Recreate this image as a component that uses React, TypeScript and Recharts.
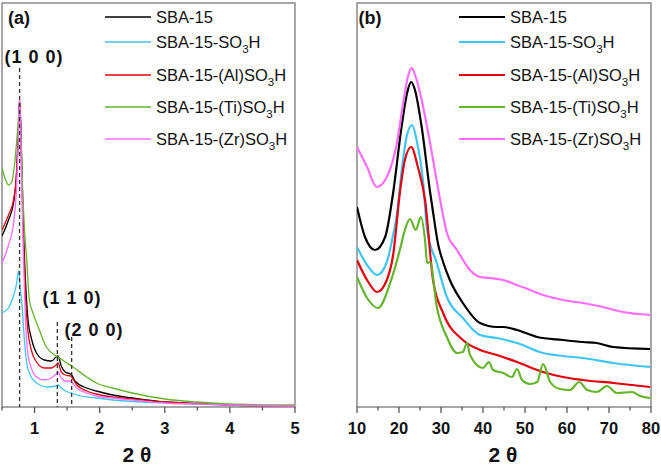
import React from "react"
import { LineChart, Line, XAxis, YAxis, ReferenceLine, ReferenceArea, Legend } from "recharts"

const seriesNames = ["SBA-15", "SBA-15-SO3H", "SBA-15-(Al)SO3H", "SBA-15-(Ti)SO3H", "SBA-15-(Zr)SO3H"]
const seriesColors = ["#000000", "#3ec6f2", "#e3000f", "#64b42c", "#ff6cff"]

// (a) low angle, [2θ, intensity a.u.]
const aSba15 = [[0.5, 171], [0.6, 187], [0.68, 205], [0.72, 230], [0.75, 275], [0.77, 307], [0.79, 280], [0.81, 225], [0.83, 177], [0.86, 127], [0.9, 87], [0.95, 69], [1.03, 54], [1.15, 47], [1.26, 46], [1.33, 50], [1.36, 51], [1.41, 41], [1.47, 35], [1.55, 33], [1.58, 31], [1.62, 26], [1.8, 19], [1.95, 16], [2.2, 12], [2.5, 9], [3, 5], [3.5, 3.5], [4, 2], [5, 1]]
const aSo3h = [[0.5, 94], [0.6, 99], [0.68, 112], [0.72, 122], [0.755, 136], [0.78, 118], [0.81, 100], [0.83, 80], [0.85, 62], [0.88, 44], [0.92, 34], [1.03, 24], [1.2, 20], [1.33, 21], [1.36, 22], [1.41, 19], [1.51, 15], [1.57, 14], [1.65, 12], [1.95, 9], [2.5, 5.5], [3, 4], [4, 2], [5, 1]]
const aAl = [[0.5, 177], [0.6, 192], [0.68, 208], [0.72, 230], [0.75, 270], [0.77, 307], [0.79, 270], [0.81, 215], [0.83, 167], [0.86, 112], [0.9, 75], [0.95, 57], [1.03, 45], [1.15, 39], [1.26, 39], [1.33, 42], [1.36, 44], [1.41, 35], [1.47, 32], [1.55, 31], [1.58, 29], [1.65, 22], [1.8, 16], [1.95, 13], [2.2, 10], [2.5, 8], [3, 5], [3.5, 3.5], [4, 2], [5, 1]]
const aTi = [[0.5, 239], [0.55, 228], [0.6, 222], [0.65, 225], [0.7, 247], [0.74, 277], [0.77, 302], [0.79, 275], [0.81, 230], [0.846, 177], [0.88, 147], [0.92, 107], [0.97, 95], [1.08, 76], [1.18, 60], [1.36, 50], [1.45, 46], [1.57, 41], [1.8, 30], [1.95, 24], [2.2, 19], [2.5, 14], [3, 8], [3.5, 5], [4, 3], [5, 2]]
const aZr = [[0.5, 144], [0.6, 162], [0.68, 185], [0.72, 215], [0.75, 265], [0.77, 310], [0.79, 265], [0.81, 200], [0.83, 147], [0.86, 87], [0.9, 52], [0.95, 39], [1.03, 30], [1.15, 27], [1.26, 29], [1.33, 33], [1.36, 35], [1.41, 29], [1.47, 26], [1.55, 26], [1.58, 24], [1.65, 19], [1.8, 14], [1.95, 11], [2.2, 9], [2.5, 7], [3, 4], [3.5, 3], [4, 2], [5, 1]]

// (b) wide angle
const bSba15 = [[10, 200], [11.9, 170], [14.3, 157], [16.7, 170], [18.6, 214], [20.6, 280], [22.1, 317], [22.9, 325], [23.8, 317], [25.4, 280], [27.4, 215], [28.1, 195], [29.3, 163], [30.5, 145], [32.1, 127], [35.2, 104], [39.3, 84], [43.3, 80], [44.8, 80], [48.1, 77], [52.9, 70], [59, 67], [63.8, 65], [67.1, 64], [71, 60], [79.8, 58]]
const bSo3h = [[10, 160], [12.4, 142], [14.8, 132], [17.1, 145], [18.6, 172], [19.5, 192], [20.6, 235], [21.8, 270], [23.1, 282], [24.2, 267], [25.7, 227], [26.7, 177], [29, 144], [31.4, 110], [35.2, 89], [39.3, 72], [43.3, 69], [48.1, 64], [54.3, 54], [59, 51], [63.8, 49], [71, 44], [79.8, 40]]
const bAl = [[10, 147], [12.4, 127], [14.8, 115], [17.1, 127], [18.6, 152], [20.2, 214], [21.4, 247], [22.9, 260], [24.5, 240], [26.2, 207], [28.1, 127], [30.5, 94], [35.2, 67], [39.3, 57], [43.3, 52], [48.1, 45], [54.3, 35], [59, 30], [63.8, 27], [71, 24], [79.8, 20]]
const bTi = [[10, 130], [12.4, 109], [15, 99], [17.9, 124], [20.2, 157], [21.4, 177], [22.6, 188], [24, 177], [25.2, 190], [26.2, 167], [26.7, 144], [27.4, 145], [29, 100], [31.4, 70], [33.8, 54], [35.2, 55], [36.2, 64], [36.9, 52], [40, 39], [41.4, 45], [42.4, 37], [44.8, 34], [46.9, 30], [48.1, 38], [49.3, 27], [51.2, 23], [52.9, 25], [54.3, 43], [56, 25], [58.3, 18], [60.7, 17], [62.9, 25], [64.8, 17], [67.1, 15], [69.5, 21], [71.9, 14], [75.5, 15], [77.4, 11], [79.8, 9]]
const bZr = [[10, 260], [12.4, 240], [14.7, 220], [17.1, 230], [19.5, 264], [21, 304], [22.1, 330], [23, 339], [24, 330], [25.4, 307], [27.4, 264], [29.8, 207], [31.4, 174], [33.8, 157], [36.9, 137], [39.3, 130], [41.7, 129], [44.8, 127], [48.1, 122], [51.2, 117], [54.3, 112], [59, 107], [63.8, 104], [68.6, 100], [73.3, 95], [79.8, 92]]

const aTicks = [0.5, 1, 1.5, 2, 2.5, 3, 3.5, 4, 4.5, 5]
const bTicks = [10, 15, 20, 25, 30, 35, 40, 45, 50, 55, 60, 65, 70, 75, 80]

const panelA = [aSba15, aSo3h, aAl, aTi, aZr]
const panelB = [bSba15, bSo3h, bAl, bTi, bZr]

const FONT = 'Arial, "Liberation Sans", sans-serif'
const legendRowY = [17, 42, 75, 107, 139]

const toPoints = (pairs: number[][]) => pairs.map(([x, y]) => ({ x, y }))

function withSub(name: string) {
  const m = name.match(/^(.*SO)3(H)$/)
  if (!m) return name
  return (
    <>
      {m[1]}
      <sub style={{ fontSize: 11.5, lineHeight: 0, verticalAlign: -5 }}>3</sub>
      {m[2]}
    </>
  )
}

function makeLegend(strokeW: number) {
  return (props: any) => {
    const items = [...(props.payload || [])].sort(
      (p: any, q: any) => seriesNames.indexOf(p.value) - seriesNames.indexOf(q.value)
    )
    return (
      <div style={{ position: "relative", width: 230, height: 160, fontFamily: FONT, fontSize: 16.5, color: "#111" }}>
        {items.map((p: any, i: number) => (
          <div key={p.value} style={{ position: "absolute", left: 0, top: legendRowY[i] - 10, height: 20, display: "flex", alignItems: "center", whiteSpace: "nowrap" }}>
            <svg width={46} height={20} style={{ marginRight: 5 }}>
              <line x1={0} x2={46} y1={10} y2={10} stroke={p.color} strokeWidth={strokeW} />
            </svg>
            <span>{withSub(p.value)}</span>
          </div>
        ))}
      </div>
    )
  }
}

function makeTick(isMajor: (v: number) => boolean) {
  return (props: any) => {
    const { x, y, payload } = props
    const major = isMajor(payload.value)
    return (
      <g>
        <line x1={x} x2={x} y1={y} y2={y + (major ? 6 : 3.5)} stroke="#555" strokeWidth={1.3} />
        {major && (
          <text x={x} y={y + 27} textAnchor="middle" fontFamily={FONT} fontWeight="bold" fontSize={16.5} fill="#111">
            {payload.value}
          </text>
        )}
      </g>
    )
  }
}

function Tag({ x, y, size, children, spacing = 0 }: any) {
  return (
    <div style={{ position: "absolute", left: x, top: y, transform: "translate(-50%, -50%)", fontFamily: FONT, fontWeight: "bold", fontSize: size, letterSpacing: spacing, whiteSpace: "nowrap", color: "#111", lineHeight: 1 }}>
      {children}
    </div>
  )
}

function Panel({ sets, domain, ticks, isMajor, strokeW, margin }: any) {
  return (
    <LineChart width={margin.w} height={465} margin={margin.m}>
      <XAxis dataKey="x" type="number" domain={domain} allowDataOverflow ticks={ticks} interval={0} tickSize={0} tickMargin={0} height={30} axisLine={false} tick={makeTick(isMajor)} />
      <YAxis type="number" domain={[0, 404]} allowDataOverflow hide />
      <ReferenceArea x1={domain[0]} x2={domain[1]} y1={0} y2={404} fill="none" stroke="#8a8a8a" strokeWidth={1.5} fillOpacity={0} />
      {sets.map((s: number[][], i: number) => (
        <Line key={i} data={toPoints(s)} dataKey="y" name={seriesNames[i]} stroke={seriesColors[i]} strokeWidth={strokeW} dot={false} type="monotone" isAnimationActive={false} />
      ))}
      <Legend layout="vertical" align="center" verticalAlign="middle" content={makeLegend(strokeW)} wrapperStyle={{ left: margin.legendX, top: 0, width: 230, height: 160 }} />
      {margin.refs}
    </LineChart>
  )
}

export default function App() {
  const refsA = [
    <ReferenceLine key="r1" segment={[{ x: 0.77, y: 339 }, { x: 0.77, y: 0 }]} stroke="#333" strokeDasharray="4 3" strokeWidth={1.3} />,
    <ReferenceLine key="r2" segment={[{ x: 1.35, y: 85 }, { x: 1.35, y: 0 }]} stroke="#333" strokeDasharray="4 3" strokeWidth={1.3} />,
    <ReferenceLine key="r3" segment={[{ x: 1.57, y: 70 }, { x: 1.57, y: 0 }]} stroke="#333" strokeDasharray="4 3" strokeWidth={1.3} />,
  ]
  return (
    <div style={{ position: "absolute", left: 0, top: 0, width: 661, height: 465, background: "#fff", overflow: "hidden" }}>
      <div style={{ position: "absolute", left: 0, top: 0 }}>
        <Panel sets={panelA} domain={[0.5, 5]} ticks={aTicks} isMajor={(v: number) => Number.isInteger(v)} strokeW={1.3}
          margin={{ w: 330, m: { top: 3, right: 35, left: 2, bottom: 28 }, legendX: 105, refs: refsA }} />
      </div>
      <div style={{ position: "absolute", left: 330, top: 0 }}>
        <Panel sets={panelB} domain={[10, 80]} ticks={bTicks} isMajor={(v: number) => v % 10 === 0} strokeW={2.2}
          margin={{ w: 331, m: { top: 3, right: 10, left: 27, bottom: 28 }, legendX: 129, refs: [] }} />
      </div>
      <Tag x={19} y={18} size={18}>(a)</Tag>
      <Tag x={370} y={18} size={18}>(b)</Tag>
      <Tag x={34} y={57} size={18} spacing={1}>(1 0 0)</Tag>
      <Tag x={72} y={298} size={18} spacing={1}>(1 1 0)</Tag>
      <Tag x={94} y={330} size={18} spacing={1}>(2 0 0)</Tag>
      <Tag x={137} y={454} size={21}>2 θ</Tag>
      <Tag x={503} y={454} size={21}>2 θ</Tag>
    </div>
  )
}
